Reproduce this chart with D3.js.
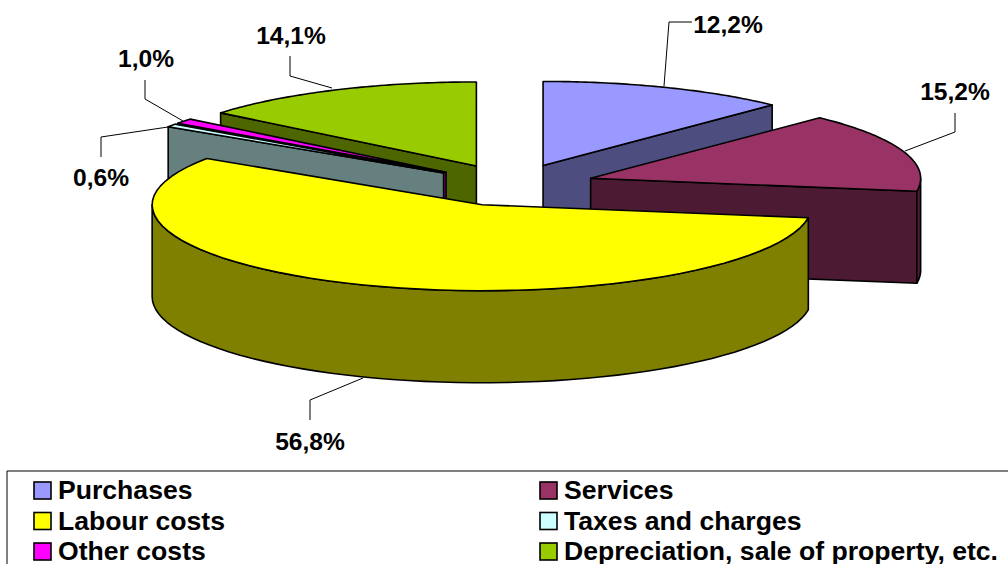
<!DOCTYPE html>
<html><head><meta charset="utf-8">
<style>html,body{margin:0;padding:0;background:#fff}svg{display:block}text{font-family:"Liberation Sans",Arial,sans-serif;font-weight:bold;fill:#000}</style>
<script src="https://cdn.jsdelivr.net/npm/d3@7"></script></head><body><script>
const categories=["Purchases","Services","Labour costs","Taxes and charges","Other costs","Depreciation, sale of property, etc."];
const shares=[12.2,15.2,56.8,0.6,1.0,14.1];
const shareLabels=["12,2%","15,2%","56,8%","0,6%","1,0%","14,1%"];
const colors=["#9999FF","#993366","#FFFF00","#CCFFFF","#FF00FF","#99CC00"];
const W=1008,H=564,cx=512,cy=185,rx=330,tilt=0.2545,tiltFront=0.2606,depth=92,explode=83;
const svg=d3.select("body").append("svg").attr("width",W).attr("height",H);
const arcs=d3.pie().sort(null).value(d=>d)(shares);
const dark=c=>{const r=d3.rgb(c);return d3.rgb(r.r/2,r.g/2,r.b/2).formatHex()};
const P=(s,a,z)=>{const c=Math.cos(a);return [s.ax+rx*Math.sin(a),s.ay-rx*(c>0?tilt:tiltFront)*c+z]};
const slices=arcs.map((a,i)=>{const m=(a.startAngle+a.endAngle)/2;
 return {i,a0:a.startAngle,a1:a.endAngle,ax:cx+explode*Math.sin(m),ay:cy-explode*tilt*Math.cos(m),c:colors[i]}});
const line=d3.line();
const arcPts=(s,a0,a1,z)=>d3.range(0,61).map(k=>P(s,a0+(a1-a0)*k/60,z));
const poly=(pts,fill)=>svg.append("path").attr("d",line(pts)+"Z").attr("fill",fill).attr("stroke","#000").attr("stroke-width",1.6).attr("stroke-linejoin","round");
const order=[0,5,1,4,3,2];
order.forEach(i=>{const s=slices[i],d=dark(s.c);
 const face=a=>poly([[s.ax,s.ay],P(s,a,0),P(s,a,depth),[s.ax,s.ay+depth]],d);
 if(Math.sin(s.a0)<-1e-6)face(s.a0);
 if(Math.sin(s.a1)>1e-6)face(s.a1);
 const w0=Math.max(s.a0,Math.PI/2),w1=Math.min(s.a1,Math.PI*1.5);
 if(w1>w0){const top=arcPts(s,w0,w1,0),bot=arcPts(s,w0,w1,depth).reverse();poly(top.concat(bot),d);}
 poly([[s.ax,s.ay]].concat(arcPts(s,s.a0,s.a1,0)),s.c);
});
const leaders=[[[664,86],[669,22],[692,22]],[[905,151],[955,132],[955,113]],[[363,378],[310,400],[310,420]],[[168,127],[101,137],[101,157]],[[183,121],[145,99],[145,80]],[[332,88],[290,76],[290,56]]];
const labelPos=[[728,33],[955,100],[310,450],[101,186],[146,67],[291,44]];
leaders.forEach(l=>svg.append("path").attr("d",line(l)).attr("fill","none").attr("stroke","#000").attr("stroke-width",1));
shareLabels.forEach((t,i)=>svg.append("text").attr("x",labelPos[i][0]).attr("y",labelPos[i][1]).attr("text-anchor","middle").attr("font-size",24.6).text(t));
svg.append("path").attr("d",line([[7,564],[7,471],[1008,471]])).attr("fill","none").attr("stroke","#000").attr("stroke-width",1);
const lx=d3.scalePoint().domain([0,1]).range([34,540]);
const ly=d3.scalePoint().domain([0,1,2]).range([490.5,551.5]);
categories.forEach((c,i)=>{const col=i%2,row=Math.floor(i/2);
 svg.append("rect").attr("x",lx(col)).attr("y",ly(row)-8.5).attr("width",17).attr("height",17).attr("fill",colors[i]).attr("stroke","#000").attr("stroke-width",1.6);
 svg.append("text").attr("x",lx(col)+24).attr("y",ly(row)+8.5).attr("font-size",26.6).text(c);
});
</script></body></html>
